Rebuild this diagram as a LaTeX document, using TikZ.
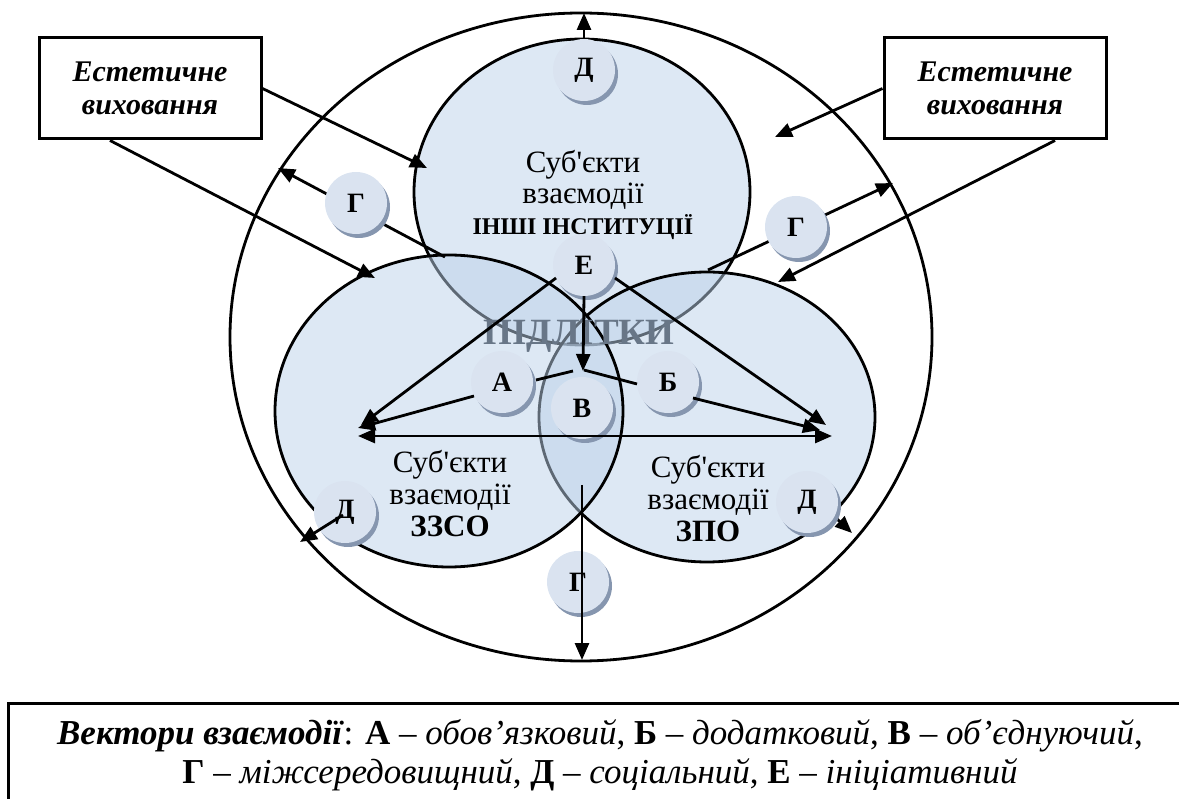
\documentclass[tikz,border=0pt]{standalone}
\usepackage{fontspec}
\setmainfont{Liberation Serif}
\usetikzlibrary{arrows.meta,shapes.geometric,shadows}

\definecolor{ellfill}{RGB}{187,209,233}
\definecolor{smallfill}{RGB}{218,227,240}
\definecolor{shadowc}{RGB}{134,150,175}
\definecolor{watermark}{RGB}{104,118,135}

\begin{document}
\begin{tikzpicture}[x=1pt,y=-1pt,
  ell/.style={ellipse, draw=black, line width=2.8pt, fill=ellfill, fill opacity=0.5, inner sep=0pt},
  vec/.style={circle, fill=smallfill, minimum size=62pt, inner sep=0pt,
    font=\fontsize{28}{28}\selectfont\bfseries, text=black,
    drop shadow={shadow xshift=3pt, shadow yshift=-4pt, fill=shadowc, opacity=1}},
  arr/.style={line width=2.8pt, -{Triangle[length=17pt,width=14pt]}},
  ln/.style={line width=2.8pt},
  lbl/.style={align=center, font=\fontsize{31}{31}\selectfont, inner sep=0pt},
  estbox/.style={draw=black, line width=3pt, minimum width=222pt, minimum height=101pt,
    align=center, font=\fontsize{30}{33}\selectfont\bfseries\itshape, inner sep=0pt}
]
\useasboundingbox (0,0) rectangle (1179,799);

% big shapes
\node[ellipse, draw=black, line width=2.8pt, minimum width=702pt, minimum height=648pt, inner sep=0pt] (outer) at (581,337) {};
\node[ell, minimum width=336pt, minimum height=306pt] (top) at (582,192) {};
\node[ell, minimum width=336pt, minimum height=290pt] (zpo) at (707,417) {};
\node[ell, minimum width=348pt, minimum height=312pt] (zzso) at (449,411) {};

% watermark
\node[font=\fontsize{37}{37}\selectfont\bfseries, text=watermark, inner sep=0pt] (teen) at (579,336) {ПІДЛІТКИ};

% labels
\node[lbl] (ltop) at (583,195) {Суб\textquotesingle єкти\\взаємодії\\{\fontsize{24}{24}\selectfont\bfseries ІНШІ ІНСТИТУЦІЇ}};
\node[lbl, font=\fontsize{31}{32}\selectfont] (lleft) at (450,494) {Суб\textquotesingle єкти\\взаємодії\\{\bfseries ЗЗСО}};
\node[lbl, font=\fontsize{31}{32}\selectfont] (lright) at (708,499) {Суб\textquotesingle єкти\\взаємодії\\{\bfseries ЗПО}};

% boxes
\node[estbox] (boxL) at (150,88.5) {Естетичне\\виховання};
\node[estbox] (boxR) at (995,88.5) {Естетичне\\виховання};

% coordinates
\coordinate (tTopL) at (427,168);
\coordinate (tLeftTop) at (375,278);
\coordinate (tFree) at (775,137);
\coordinate (tRightTop) at (778,282);
\coordinate (gLs) at (445,257);
\coordinate (gLe) at (278,168);
\coordinate (gRs) at (708,270);
\coordinate (gRe) at (893,183);
\coordinate (dTe) at (584,13);
\coordinate (dRs) at (836,518);
\coordinate (dRe) at (852,533);
\coordinate (pV) at (583,371);
\coordinate (pL) at (361,425);
\coordinate (pL2) at (358,428);
\coordinate (pR) at (826,425);
\coordinate (pR2) at (820,430);
\coordinate (hL) at (358,436);
\coordinate (hR) at (832,436);

% arrows from boxes
\draw[arr] (boxL.east) -- (tTopL);
\draw[arr] ([xshift=-40pt]boxL.south) -- (tLeftTop);
\draw[arr] (boxR.west) -- (tFree);
\draw[arr] ([xshift=60pt]boxR.south) -- (tRightTop);

% G vectors (behind circles)
\draw[arr] (gLs) -- (gLe);
\draw[arr] (gRs) -- (gRe);
\draw[arr] (584,45) -- (dTe);
\draw[arr] (dRs) -- (dRe);

% small circles
\node[vec] (dtop) at (584,70) {Д};
\node[vec] (gl) at (356,203) {Г};
\node[vec] (gr) at (796,227) {Г};
\node[vec] (dl) at (345,512) {Д};
\node[vec] (dr) at (807,502) {Д};
\node[vec] (gb) at (578,582) {Г};
\node[vec] (vB) at (582,408) {В};
\node[vec] (vA) at (502,382) {А};
\node[vec] (vBB) at (668,382) {Б};
\node[vec] (ve) at (584,265) {Е};

% lines over circles
\draw[arr] (343,515) -- (300,542);
\draw[arr] (582,485) -- (582,660);

% inner vectors
\draw[arr] (ve.south) -- (pV);
\draw[arr] (556,278) -- (pL);
\draw[arr] (615,278) -- (pR);
\draw[arr] (474,396) -- (pL2);
\draw[ln] (536,380) -- (573,371);
\draw[ln] (584,370) -- (637,384);
\draw[arr] (693,398) -- (pR2);
\draw[line width=2.8pt, {Triangle[length=17pt,width=14pt]}-{Triangle[length=17pt,width=14pt]}] (hL) -- (hR);

% legend
\draw[line width=3pt] (8,800) -- (8,703) -- (1180,703);
\node[align=center, font=\fontsize{35}{39}\selectfont, inner sep=0pt] (legend) at (600,755)
 {\textbf{\textit{Вектори взаємодії}}: \textbf{А} – \textit{обов’язковий}, \textbf{Б} – \textit{додатковий}, \textbf{В} – \textit{об’єднуючий},\\
  \textbf{Г} – \textit{міжсередовищний}, \textbf{Д} – \textit{соціальний}, \textbf{Е} – \textit{ініціативний}};
\end{tikzpicture}
\end{document}
